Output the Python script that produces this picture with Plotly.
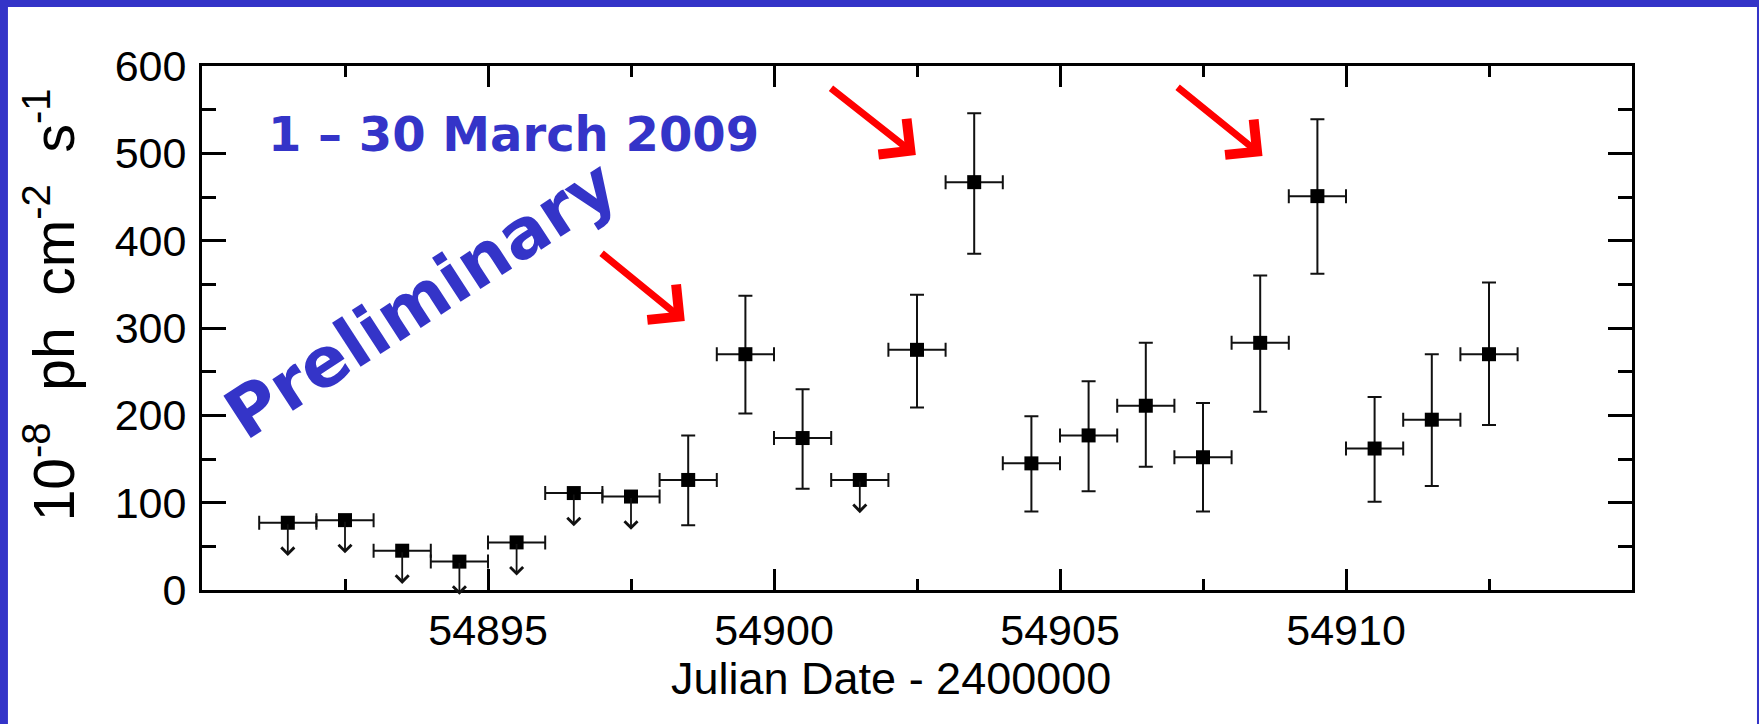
import plotly.graph_objects as go

# ---------------- data ----------------
jd_det = [54898.5, 54899.5, 54900.5, 54902.5, 54903.5, 54904.5, 54905.5,
          54906.5, 54907.5, 54908.5, 54909.5, 54910.5, 54911.5, 54912.5]
flux_det = [126, 270, 174, 275, 467, 145, 177, 211, 152, 283, 451, 162, 195, 270]
err_up = [51, 67, 56, 63, 79, 54, 62, 72, 62, 77, 88, 59, 75, 82]
err_dn = [52, 68, 58, 66, 82, 55, 64, 70, 62, 79, 89, 61, 76, 81]

jd_ul = [54891.5, 54892.5, 54893.5, 54894.5, 54895.5, 54896.5, 54897.5, 54901.5]
flux_ul = [77, 80, 45, 32.5, 54.5, 111, 107, 126]

bin_half = [0.5] * 22

x_tickvals = [54895, 54900, 54905, 54910]
x_minor = [54892.5, 54897.5, 54902.5, 54907.5, 54912.5]
y_tickvals = [0, 100, 200, 300, 400, 500, 600]

# red arrows (tail x, tail y, tip x, tip y) in data units
red_arrows = [
    (54896.96, 387, 54898.44, 308),
    (54900.97, 576, 54902.48, 498),
    (54907.03, 577, 54908.54, 497),
]

BLUE = "#3434c8"
UL_ARROW = 38  # length of upper-limit arrows (flux units)

fig = go.Figure()

fig.add_trace(go.Scatter(
    x=jd_ul, y=flux_ul, mode="markers",
    marker=dict(symbol="square", size=14, color="black"),
    error_x=dict(type="data", array=bin_half[:len(jd_ul)], color="#111",
                 thickness=2, width=7),
    showlegend=False, cliponaxis=False,
))
fig.add_trace(go.Scatter(
    x=jd_det, y=flux_det, mode="markers",
    marker=dict(symbol="square", size=14, color="black"),
    error_x=dict(type="data", array=bin_half[:len(jd_det)], color="#111",
                 thickness=2, width=7),
    error_y=dict(type="data", symmetric=False, array=err_up, arrayminus=err_dn,
                 color="#111", thickness=2, width=7),
    showlegend=False, cliponaxis=False,
))

ann = []
for xv, yv in zip(jd_ul, flux_ul):
    ann.append(dict(x=xv, y=yv - UL_ARROW, ax=xv, ay=yv, xref="x", yref="y",
                    axref="x", ayref="y", text="", showarrow=True,
                    arrowhead=4, arrowsize=1.4, arrowwidth=1.8,
                    arrowcolor="#111", standoff=0, startstandoff=0))

for tx, ty, hx, hy in red_arrows:
    ann.append(dict(x=hx, y=hy, ax=tx, ay=ty, xref="x", yref="y",
                    axref="x", ayref="y", text="", showarrow=True,
                    arrowhead=4, arrowsize=1.25, arrowwidth=7,
                    arrowcolor="#ff0000", standoff=0))

ann.append(dict(text="1 – 30 March 2009", x=0.0445, y=0.870, xref="paper",
                yref="paper", xanchor="left", yanchor="middle", showarrow=False,
                font=dict(family="DejaVu Sans", size=48, color=BLUE, weight="bold")))
ann.append(dict(text="Preliminary", x=0.1531, y=0.5560, xref="paper",
                yref="paper", xanchor="center", yanchor="middle", showarrow=False,
                textangle=-33,
                font=dict(family="DejaVu Sans", size=69, color=BLUE, weight="bold")))
ann.append(dict(text="Julian Date - 2400000", x=0.4818, y=-0.1698, xref="paper",
                yref="paper", xanchor="center", yanchor="middle", showarrow=False,
                font=dict(family="Liberation Sans", size=45, color="black")))
ann.append(dict(text="10<sup>-8</sup>  ph  cm<sup>-2</sup>  s<sup>-1</sup>",
                x=-0.1060, y=0.5440, xref="paper", yref="paper",
                xanchor="center", yanchor="middle", showarrow=False, textangle=-90,
                font=dict(family="Liberation Sans", size=57, color="black")))

fig.update_layout(
    width=1759, height=724,
    margin=dict(l=202, r=127, t=66, b=134, pad=0),
    paper_bgcolor=BLUE, plot_bgcolor="white",
    annotations=ann,
    shapes=[dict(type="rect", xref="paper", yref="paper",
                 x0=-0.1357, x1=1.0874, y0=-0.3, y1=1.1126,
                 fillcolor="white", line=dict(width=0), layer="below")],
)

fig.update_xaxes(
    range=[54890, 54915], tickvals=x_tickvals, ticktext=[str(v) for v in x_tickvals],
    ticks="inside", ticklen=21, tickwidth=2.5, tickcolor="black",
    showline=True, linewidth=3, linecolor="black", mirror="allticks",
    showgrid=False, zeroline=False,
    tickfont=dict(family="Liberation Sans", size=43, color="black"),
    minor=dict(tickvals=x_minor, ticks="inside", ticklen=11, tickwidth=2.5,
               tickcolor="black", showgrid=False),
)
fig.update_yaxes(
    range=[0, 600], tickvals=y_tickvals,
    ticks="inside", ticklen=24, tickwidth=2.5, tickcolor="black",
    showline=True, linewidth=3, linecolor="black", mirror="allticks",
    showgrid=False, zeroline=False, ticklabelstandoff=4,
    tickfont=dict(family="Liberation Sans", size=43, color="black"),
    minor=dict(dtick=50, tick0=0, ticks="inside", ticklen=14, tickwidth=2.5,
               tickcolor="black", showgrid=False),
)

fig.write_html("out.html")
